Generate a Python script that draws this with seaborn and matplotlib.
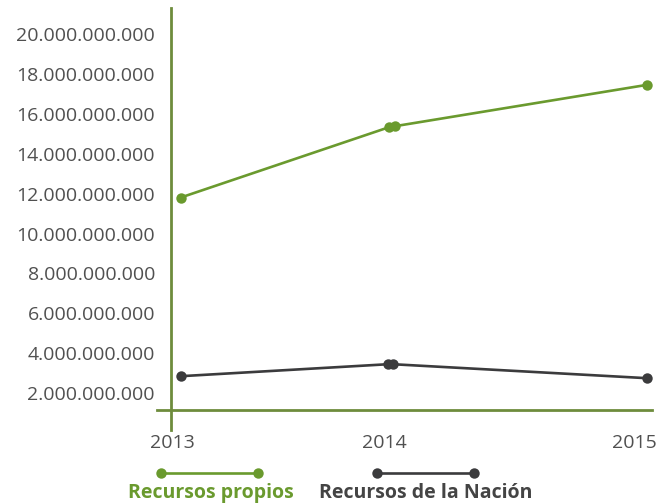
import matplotlib
matplotlib.use("Agg")
import matplotlib.pyplot as plt
from matplotlib.lines import Line2D
from matplotlib.ticker import FuncFormatter
import pandas as pd
import seaborn as sns

# Position of each observation along the horizontal axis (year scale used by the report)
propios_x = [0.04, 1.024, 1.052, 2.24]
propios = [11.8e9, 15.33e9, 15.38e9, 17.45e9]
nacion_x = [0.042, 1.019, 1.042, 2.24]
nacion = [2.85e9, 3.45e9, 3.45e9, 2.75e9]

series_names = ["Recursos propios", "Recursos de la Nación"]
year_ticks = [0.0, 1.0, 2.18]
year_labels = ["2013", "2014", "2015"]
value_ticks = [2e9, 4e9, 6e9, 8e9, 10e9, 12e9, 14e9, 16e9, 18e9, 20e9]

GREEN = "#6a9a2e"
DARK = "#3b3b3d"
AXIS_GREEN = "#6e8c3c"
TEXT = "#505050"

df = pd.DataFrame({
    "x": propios_x + nacion_x,
    "valor": propios + nacion,
    "serie": [series_names[0]] * len(propios) + [series_names[1]] * len(nacion),
})

sns.set_theme(style="white")
plt.rcParams["font.family"] = ["Open Sans", "DejaVu Sans"]

fig = plt.figure(figsize=(6.59, 5.03), dpi=100)
ax = fig.add_axes([0.2382, 0.145, 0.7512, 0.839])

sns.lineplot(data=df, x="x", y="valor", hue="serie", estimator=None, sort=False,
             palette=[GREEN, DARK], marker="o", markersize=7.5, markeredgewidth=0,
             linewidth=1.9, legend=False, ax=ax)

ax.set_xlim(-0.071, 2.264)
ax.set_ylim(0.15e9, 21.3e9)

for side in ("top", "right"):
    ax.spines[side].set_visible(False)
ax.spines["left"].set_position(("data", -0.005))
ax.spines["bottom"].set_position(("data", 1.15e9))
for side in ("left", "bottom"):
    ax.spines[side].set_color(AXIS_GREEN)
    ax.spines[side].set_linewidth(2.0)

ax.set_yticks(value_ticks)
ax.yaxis.set_major_formatter(FuncFormatter(lambda v, p: f"{int(round(v)):,}".replace(",", ".")))
ax.set_xticks(year_ticks)
ax.set_xticklabels(year_labels)
ax.tick_params(axis="y", length=0, pad=11.5, labelsize=14, labelcolor=TEXT)
ax.tick_params(axis="x", length=0, pad=17, labelsize=14, labelcolor=TEXT)
ax.set_xlabel("")
ax.set_ylabel("")

# Legend: a short marked line with the series name underneath
W, H = 659, 503
def legend_item(x0, x1, y, color, label, label_x, text_color):
    fig.add_artist(Line2D([x0 / W, x1 / W], [1 - y / H, 1 - y / H], color=color,
                          linewidth=1.9, marker="o", markersize=7.5,
                          markeredgewidth=0, transform=fig.transFigure))
    fig.text(label_x / W, 1 - 493 / H, label, color=text_color, fontsize=14,
             fontweight="bold", ha="center", va="center")

legend_item(161, 258, 473, GREEN, series_names[0], 211, GREEN)
legend_item(377, 474, 473, DARK, series_names[1], 426, "#444444")

fig.savefig("out.png", dpi=100)
